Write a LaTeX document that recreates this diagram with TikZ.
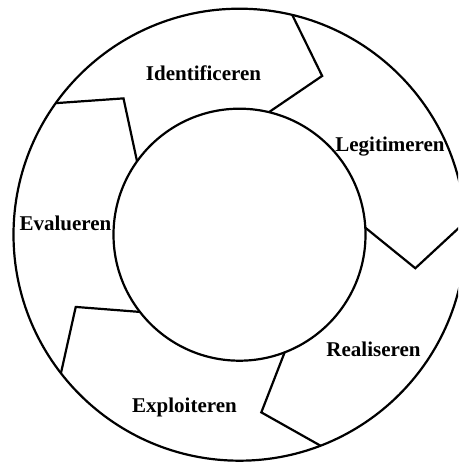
\documentclass[tikz,border=0pt]{standalone}
\usepackage{fontspec}
\setmainfont{Liberation Serif}
\begin{document}
\begin{tikzpicture}[x=1pt,y=1pt,
  ring/.style={draw=black,line width=2.2pt},
  border/.style={draw=black,line width=2.2pt,line join=miter},
  phase/.style={font=\bfseries\fontsize{21}{25}\selectfont,anchor=base,inner sep=0pt}]
\useasboundingbox (0,0) rectangle (458,462);
\clip (0,0) rectangle (458,462);
\coordinate (c) at (239.5,227.3);
% ring of five phases
\begin{scope}[shift={(c)}]
  \draw[ring] (0,0) circle[radius=226];
  \draw[ring] (0,0) circle[radius=126];
  % chevron-shaped borders between the phases
  \foreach \a in {76.5, 3.2, -69, -142.2, 144.4}{
    \draw[border] (\a:226) -- (\a-14:179) -- (\a:126);
  }
\end{scope}
% phase labels
\node[phase] (identificeren) at (203.5,381)   {Identificeren};
\node[phase] (legitimeren)   at (390,310.5)   {Legitimeren};
\node[phase] (realiseren)    at (373.5,105)   {Realiseren};
\node[phase] (exploiteren)   at (184.5,49)    {Exploiteren};
\node[phase] (evalueren)     at (65.5,231)    {Evalueren};
\end{tikzpicture}
\end{document}
